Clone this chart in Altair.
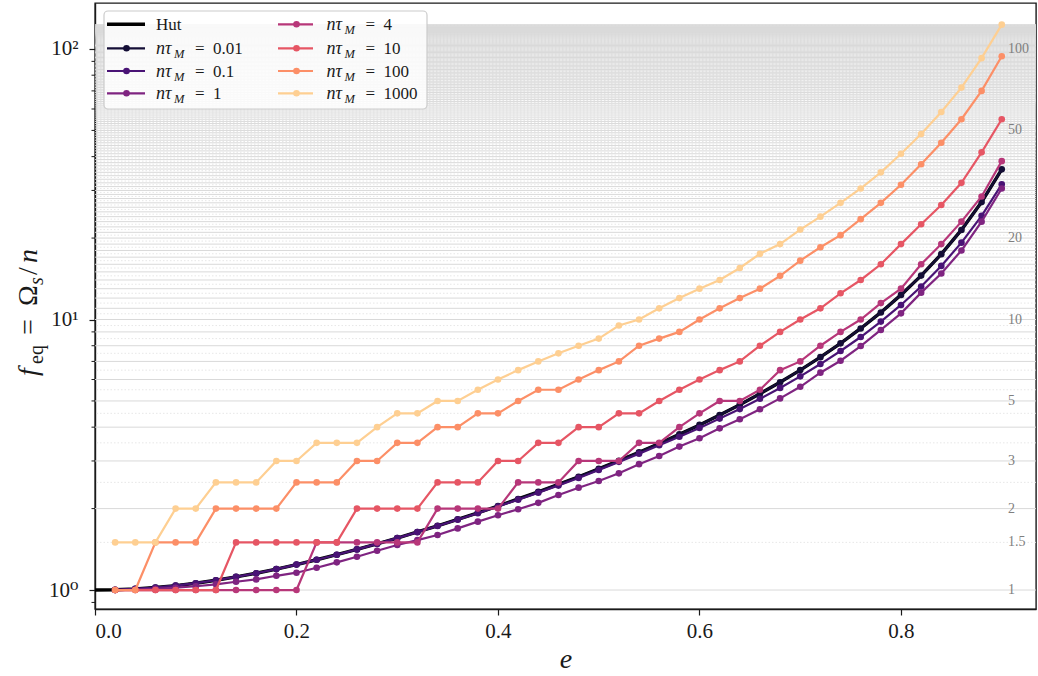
import altair as alt
import pandas as pd

# ---------------- data ----------------
E = [0.02, 0.04, 0.06, 0.08, 0.10, 0.12, 0.14, 0.16, 0.18, 0.20,
     0.22, 0.24, 0.26, 0.28, 0.30, 0.32, 0.34, 0.36, 0.38, 0.40,
     0.42, 0.44, 0.46, 0.48, 0.50, 0.52, 0.54, 0.56, 0.58, 0.60,
     0.62, 0.64, 0.66, 0.68, 0.70, 0.72, 0.74, 0.76, 0.78, 0.80,
     0.82, 0.84, 0.86, 0.88, 0.90]
E_HUT = [0.00] + E

HUT = [1.000, 1.002, 1.010, 1.022, 1.038, 1.060, 1.087, 1.118, 1.154, 1.195, 1.242,
       1.294, 1.351, 1.413, 1.482, 1.557, 1.639, 1.728, 1.825, 1.930, 2.045,
       2.171, 2.308, 2.458, 2.623, 2.805, 3.007, 3.231, 3.481, 3.761, 4.077,
       4.436, 4.845, 5.316, 5.862, 6.502, 7.259, 8.164, 9.265, 10.62, 12.33,
       14.53, 17.44, 21.43, 27.16, 35.91]

F_001 = [1.002, 1.010, 1.022, 1.038, 1.060, 1.087, 1.118, 1.154, 1.195, 1.242,
         1.294, 1.351, 1.413, 1.482, 1.557, 1.639, 1.728, 1.825, 1.930, 2.045,
         2.171, 2.308, 2.458, 2.623, 2.805, 3.007, 3.231, 3.481, 3.761, 4.077,
         4.436, 4.845, 5.316, 5.862, 6.502, 7.259, 8.164, 9.265, 10.62, 12.33,
         14.53, 17.44, 21.43, 27.16, 35.91]

F_01 = [1.002, 1.010, 1.022, 1.038, 1.060, 1.087, 1.118, 1.154, 1.195, 1.242,
        1.294, 1.351, 1.413, 1.481, 1.556, 1.637, 1.725, 1.820, 1.923, 2.036,
        2.158, 2.290, 2.433, 2.597, 2.777, 2.977, 3.192, 3.429, 3.686, 3.975,
        4.303, 4.666, 5.093, 5.586, 6.164, 6.845, 7.650, 8.616, 9.824, 11.32,
        13.25, 15.78, 19.24, 24.17, 31.6]

F_1 = [1.000, 1.004, 1.010, 1.020, 1.033, 1.050, 1.073, 1.095, 1.129, 1.159,
       1.209, 1.266, 1.327, 1.397, 1.467, 1.530, 1.597, 1.690, 1.790, 1.890,
       1.990, 2.100, 2.245, 2.390, 2.530, 2.700, 2.920, 3.130, 3.390, 3.640,
       3.960, 4.280, 4.660, 5.110, 5.640, 6.360, 7.040, 7.980, 9.150, 10.54,
       12.57, 14.8, 18.0, 23.0, 30.5]

F_4 = [1, 1, 1, 1, 1, 1, 1, 1, 1, 1,
       1.5, 1.5, 1.5, 1.5, 1.5, 1.5, 2, 2, 2, 2,
       2.5, 2.5, 2.5, 3, 3, 3, 3.5, 3.5, 4, 4.5,
       5, 5, 5.5, 6.5, 7, 8, 9, 10, 11.5, 13,
       16, 19, 23, 28.5, 38.5]

F_10 = [1, 1, 1, 1, 1, 1, 1.5, 1.5, 1.5, 1.5,
        1.5, 1.5, 2, 2, 2, 2, 2.5, 2.5, 2.5, 3,
        3, 3.5, 3.5, 4, 4, 4.5, 4.5, 5, 5.5, 6,
        6.5, 7, 8, 9, 10, 11, 12.5, 14, 16, 19,
        22.5, 26.5, 32, 41.5, 55]

F_100 = [1, 1, 1.5, 1.5, 1.5, 2, 2, 2, 2, 2.5,
         2.5, 2.5, 3, 3, 3.5, 3.5, 4, 4, 4.5, 4.5,
         5, 5.5, 5.5, 6, 6.5, 7, 8, 8.5, 9, 10,
         11, 12, 13, 14.5, 16.5, 18.5, 20.5, 23.5, 27, 31.5,
         37.5, 45, 55, 70, 94]

F_1000 = [1.5, 1.5, 1.5, 2, 2, 2.5, 2.5, 2.5, 3, 3,
          3.5, 3.5, 3.5, 4, 4.5, 4.5, 5, 5, 5.5, 6,
          6.5, 7, 7.5, 8, 8.5, 9.5, 10, 11, 12, 13,
          14, 15.5, 17.5, 19, 21.5, 24, 27, 30.5, 35, 41,
          48.5, 58.5, 72, 92.5, 123]

NTAU = ["0.01", "0.1", "1", "4", "10", "100", "1000"]
SERIES = [F_001, F_01, F_1, F_4, F_10, F_100, F_1000]
COLORS = ["#140e36", "#491375", "#7f2481", "#b73779", "#e65664", "#fc8f67", "#fecf92"]

X_TICKS = [0.0, 0.2, 0.4, 0.6, 0.8]
Y_TICKS = [1, 10, 100]
Y_MINOR = [0.9, 2, 3, 4, 5, 6, 7, 8, 9, 20, 30, 40, 50, 60, 70, 80, 90]
GRID = [k / 2 for k in range(2, 247)]
RIGHT_VALS = [1, 1.5, 2, 3, 5, 10, 20, 50, 100]
RIGHT_TXT = ["1", "1.5", "2", "3", "5", "10", "20", "50", "100"]

# ---------------- styling ----------------
SERIF = "'Liberation Serif', 'DejaVu Serif', serif"
INK = "#1a1a1a"
W, H = 941, 606
MSIZE = 44

xs = alt.Scale(domain=[0, 0.934], nice=False, zero=False)
ys = alt.Scale(type="log", domain=[0.851, 147.9], nice=False)

xaxis = alt.Axis(values=X_TICKS, format=".1f", grid=False, tickSize=6, tickWidth=1.2,
                 tickColor=INK, domainColor=INK, domainWidth=1.4,
                 labelFont=SERIF, labelFontSize=21, labelColor=INK, labelPadding=5,
                 title="e", titleFont=SERIF, titleFontSize=28, titleFontStyle="italic",
                 titleFontWeight="normal", titleColor=INK, titlePadding=4)
yaxis = alt.Axis(values=Y_TICKS,
                 labelExpr="datum.value == 1 ? '10⁰' : (datum.value == 10 ? '10¹' : '10²')",
                 grid=False, tickSize=6, tickWidth=1.2, tickColor=INK,
                 domainColor=INK, domainWidth=1.4, labelFont=SERIF, labelFontSize=21,
                 labelColor=INK, labelPadding=11, title=None)


def X(f):
    return alt.X(f"{f}:Q", scale=xs, axis=xaxis)


def Y(f):
    return alt.Y(f"{f}:Q", scale=ys, axis=yaxis)


layers = []

# gridlines at half-integer spin values
g_major = pd.DataFrame({"g": [g for g in GRID if g == int(g)]})
g_half = pd.DataFrame({"g": [g for g in GRID if g != int(g)]})
layers.append(alt.Chart(g_half).mark_rule(color="#e4e4e4", strokeWidth=0.9,
                                          strokeDash=[1.5, 2]).encode(y=Y("g")))
layers.append(alt.Chart(g_major).mark_rule(color="#d9d9d9", strokeWidth=1.0).encode(y=Y("g")))

# right-hand labels of gridlines
lab_df = pd.DataFrame({"v": RIGHT_VALS, "t": RIGHT_TXT})
layers.append(alt.Chart(lab_df).mark_text(align="left", baseline="middle", font=SERIF,
                                          fontSize=14, color="#7f7f7f")
              .encode(y=Y("v"), x=alt.value(913), text="t:N"))

# minor ticks on the log axis
minor_df = pd.DataFrame({"m": Y_MINOR})
layers.append(alt.Chart(minor_df).mark_rule(color=INK, strokeWidth=1.0)
              .encode(y=Y("m"), x=alt.value(0), x2=alt.value(-3.5)))

# Hut curve
hut_df = pd.DataFrame({"e": E_HUT, "f": HUT})
layers.append(alt.Chart(hut_df).mark_line(color="black", strokeWidth=3.4)
              .encode(x=X("e"), y=Y("f")))

# tidal series
for name, vals, col in zip(NTAU, SERIES, COLORS):
    df = pd.DataFrame({"e": E, "f": vals})
    layers.append(alt.Chart(df).mark_line(
        color=col, strokeWidth=2.2,
        point=alt.OverlayMarkDef(filled=True, size=MSIZE, color=col, opacity=1))
        .encode(x=X("e"), y=Y("f")))

# ---------------- legend (drawn by hand, two columns) ----------------
one = pd.DataFrame({"a": [0]})
layers.append(alt.Chart(one).mark_rect(fill="white", fillOpacity=0.82, stroke="#cccccc",
                                       strokeWidth=1.2, cornerRadius=4)
              .encode(x=alt.value(9), x2=alt.value(332), y=alt.value(8), y2=alt.value(106)))

ROWS = [21.3, 45.3, 68.0, 90.3]
COLS = [(12, 50, 31.5, 61), (183, 218, 201.5, 231.5)]
entries = [("Hut", "black", True)] + [(n, c, False) for n, c in zip(NTAU, COLORS)]
for i, (lab, col, is_hut) in enumerate(entries):
    cx0, cx1, cm, ct = COLS[i // 4]
    ry = ROWS[i % 4]
    layers.append(alt.Chart(one).mark_rule(color=col, strokeWidth=3.4 if is_hut else 2.2)
                  .encode(x=alt.value(cx0), x2=alt.value(cx1), y=alt.value(ry)))
    if is_hut:
        layers.append(alt.Chart(one).mark_text(align="left", baseline="alphabetic", font=SERIF,
                                               fontSize=17, color=INK)
                      .encode(x=alt.value(ct), y=alt.value(ry + 6), text=alt.value("Hut")))
        continue
    layers.append(alt.Chart(one).mark_point(filled=True, size=MSIZE, color=col, opacity=1)
                  .encode(x=alt.value(cm), y=alt.value(ry)))
    pieces = [("nτ", ct, ry + 6, 18, "italic"),
              ("M", ct + 18, ry + 9.5, 12.5, "italic"),
              ("=", ct + 39, ry + 6, 17, "normal"),
              (lab, ct + 57, ry + 6, 17, "normal")]
    for txt, px, py, fs, st in pieces:
        layers.append(alt.Chart(one).mark_text(align="left", baseline="alphabetic", font=SERIF,
                                               fontSize=fs, fontStyle=st, color=INK)
                      .encode(x=alt.value(px), y=alt.value(py), text=alt.value(txt)))

# ---------------- y-axis title  f_eq = Ω_s / n  (rotated) ----------------
TX, TY = -58, 373
title_pieces = [("f", 0, 0, 28, "italic"),
                ("eq", 12, 6, 20, "normal"),
                ("=", 41, 0, 28, "normal"),
                ("Ω", 70, 0, 28, "normal"),
                ("s", 91, 6, 20, "italic"),
                ("/", 101, 0, 28, "normal"),
                ("n", 113, 0, 28, "italic")]
for txt, ddx, ddy, fs, st in title_pieces:
    layers.append(alt.Chart(one).mark_text(align="left", baseline="alphabetic", font=SERIF,
                                           fontSize=fs, fontStyle=st, color=INK, angle=270,
                                           dx=ddx, dy=ddy)
                  .encode(x=alt.value(TX), y=alt.value(TY), text=alt.value(txt)))

chart = alt.layer(*layers).properties(
    width=W, height=H,
    padding={"left": 95, "top": 3, "right": 2, "bottom": 67},
    autosize=alt.AutoSizeParams(type="none"),
    background="white",
).configure_view(stroke=INK, strokeWidth=1.4)

chart.save("out.html", embed_options={"renderer": "svg", "actions": False})
